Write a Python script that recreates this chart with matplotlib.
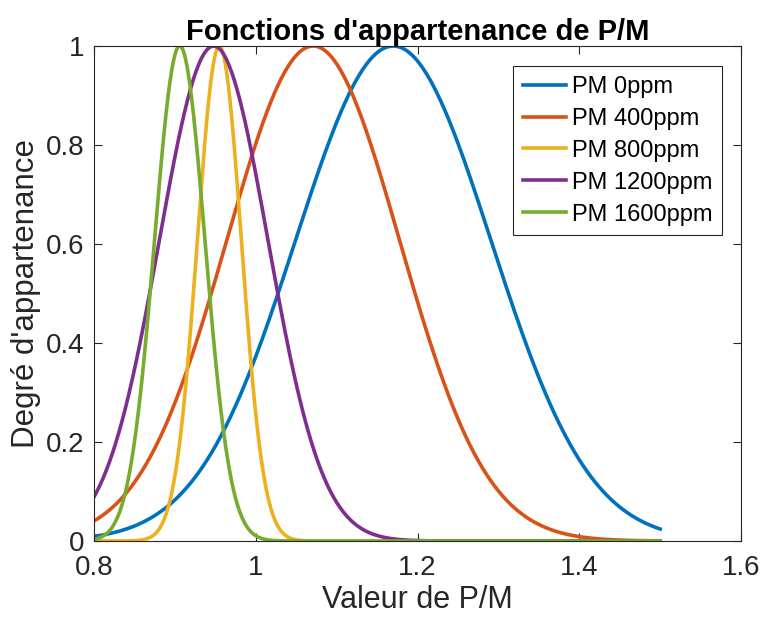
import numpy as np
import matplotlib
matplotlib.use("Agg")
import matplotlib.pyplot as plt
from matplotlib.ticker import FuncFormatter

# Gaussian membership functions (centre, width)
labels = ['PM 0ppm', 'PM 400ppm', 'PM 800ppm', 'PM 1200ppm', 'PM 1600ppm']
centres = [1.170, 1.071, 0.955, 0.948, 0.906]
sigmas = [0.121, 0.107, 0.0273, 0.0673, 0.0312]
x_start, x_end = 0.8, 1.5

colors = ['#0072BD', '#D95319', '#EDB120', '#7E2F8E', '#77AC30']

plt.rcParams['font.family'] = ['Liberation Sans', 'DejaVu Sans']

fig = plt.figure(figsize=(7.62, 6.22), dpi=100)
ax = fig.add_axes([94 / 762, 1 - 541 / 622, (741 - 94) / 762, (541 - 46) / 622])

x = np.linspace(x_start, x_end, 701)
for lab, c, s, col in zip(labels, centres, sigmas, colors):
    y = np.exp(-(x - c) ** 2 / (2 * s ** 2))
    ax.plot(x, y, color=col, lw=2.6, label=lab)

ax.set_xlim(0.8, 1.6)
ax.set_ylim(0, 1)
ax.set_xticks([0.8, 1.0, 1.2, 1.4, 1.6])
ax.set_yticks([0, 0.2, 0.4, 0.6, 0.8, 1.0])
fmt = FuncFormatter(lambda v, p: '%g' % round(v, 2))
ax.xaxis.set_major_formatter(fmt)
ax.yaxis.set_major_formatter(fmt)
ax.tick_params(direction='in', length=5.5, width=0.8, colors='#262626',
               labelsize=20, top=True, right=True)
ax.tick_params(axis='x', pad=10)
ax.tick_params(axis='y', pad=7)
for sp in ax.spines.values():
    sp.set_color('#262626')
    sp.set_linewidth(0.8)

ax.set_xlabel('Valeur de P/M', fontsize=22, color='#262626', labelpad=3)
ax.set_ylabel("Degré d'appartenance", fontsize=22.5, color='#262626', labelpad=3)
ax.set_title("Fonctions d'appartenance de P/M", fontsize=21, fontweight='bold',
             pad=4)

leg = ax.legend(loc='upper right', bbox_to_anchor=(0.9706, 0.9596),
                borderaxespad=0, fontsize=17, fancybox=False, framealpha=1,
                edgecolor='#262626', handlelength=1.8, handletextpad=0.25,
                labelspacing=0.42, borderpad=0.42)
leg.get_frame().set_linewidth(0.8)
for line in leg.get_lines():
    line.set_linewidth(2.6)

fig.savefig('out.png', dpi=100)
